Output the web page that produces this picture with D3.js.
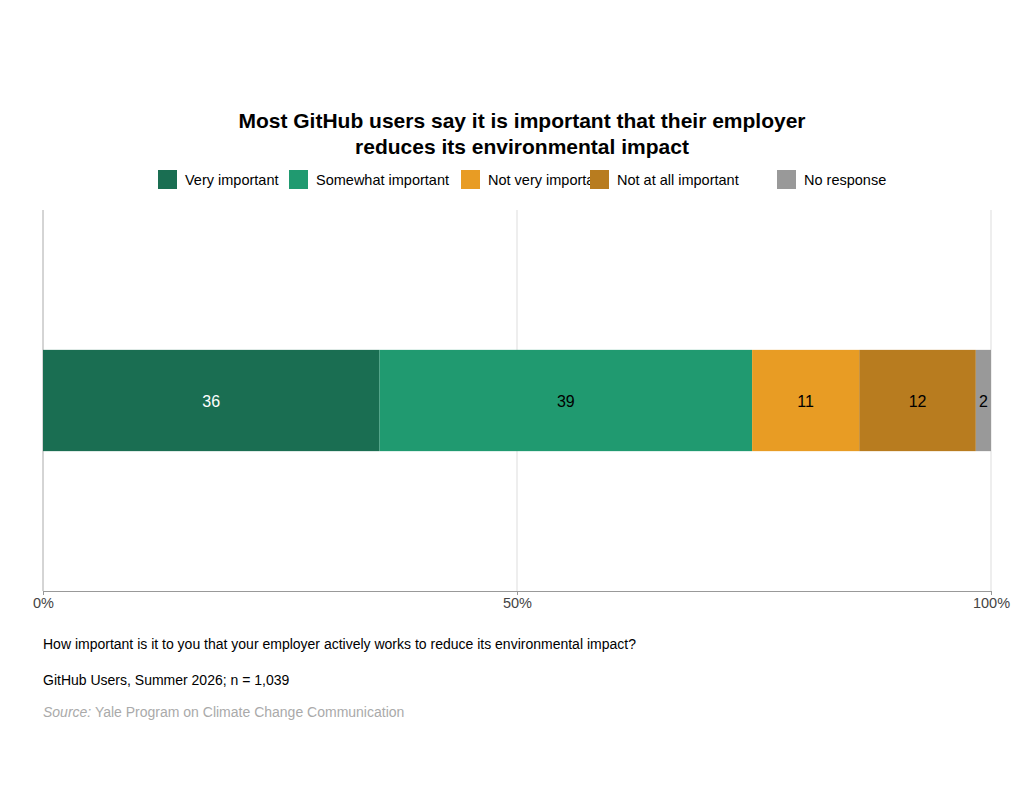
<!DOCTYPE html>
<html><head><meta charset="utf-8">
<script src="https://cdn.jsdelivr.net/npm/d3@7"></script>
<style>body{margin:0;background:#fff;font-family:"Liberation Sans",Arial,sans-serif}</style>
</head><body><svg id="c" width="1024" height="801"></svg>
<script>
const categories = ["Very important", "Somewhat important", "Not very important", "Not at all important", "No response"];
const values = [35.5, 39.3, 11.3, 12.3, 1.6];
const labels = ["36", "39", "11", "12", "2"];
const colors = ["#1a6e52", "#209a70", "#e89c24", "#b87c1f", "#999999"];
const ticks = [0, 50, 100];

const svg = d3.select("#c");
const margin = {left: 43, right: 33, top: 210, bottom: 210};
const width = 1024 - margin.left - margin.right, height = 801 - margin.top - margin.bottom;

svg.append("text").attr("x", 522).attr("y", 128).attr("text-anchor", "middle")
  .attr("font-size", 21).attr("font-weight", "bold").text("Most GitHub users say it is important that their employer");
svg.append("text").attr("x", 522).attr("y", 154).attr("text-anchor", "middle")
  .attr("font-size", 21).attr("font-weight", "bold").text("reduces its environmental impact");

// legend
const legendX = [158, 289, 461, 590, 777];
const lg = svg.append("g");
categories.forEach(function (c, i) {
  lg.append("rect").attr("x", legendX[i]).attr("y", 170).attr("width", 19).attr("height", 19).attr("fill", colors[i]);
  lg.append("text").attr("x", legendX[i] + 27).attr("y", 185).attr("font-size", 14.5).text(c);
});

const g = svg.append("g").attr("transform", "translate(" + margin.left + "," + margin.top + ")");
const x = d3.scaleLinear().domain([0, 100]).range([0, width]);
const y = d3.scaleBand().domain(["q"]).range([0, height]).padding(0.58);

g.selectAll(".grid").data(ticks).enter().append("line")
  .attr("x1", d => x(d)).attr("x2", d => x(d)).attr("y1", 0).attr("y2", height)
  .attr("stroke", d => d === 0 ? "#aaa" : "#ddd");

let cum = 0;
const segs = values.map(function (v, i) { const s = {x0: cum, v: v, i: i}; cum += v; return s; });
g.selectAll(".bar").data(segs).enter().append("rect")
  .attr("x", d => x(d.x0)).attr("width", d => x(d.v) - x(0))
  .attr("y", y("q")).attr("height", y.bandwidth()).attr("fill", d => colors[d.i]);
g.selectAll(".lbl").data(segs).enter().append("text")
  .attr("x", d => x(d.x0 + d.v / 2)).attr("y", y("q") + y.bandwidth() / 2 + 6)
  .attr("text-anchor", "middle").attr("font-size", 16)
  .attr("fill", d => d.i === 0 ? "#fff" : "#000").text(d => labels[d.i]);

const ax = g.append("g").attr("transform", "translate(0," + height + ")")
  .call(d3.axisBottom(x).tickValues(ticks).tickFormat(d => d + "%").tickSize(4));
ax.select(".domain").attr("stroke", "#999");
ax.selectAll(".tick line").attr("stroke", "#999");
ax.selectAll("text").attr("font-size", 14.5).attr("fill", "#444").attr("font-family", "Liberation Sans, Arial");

svg.append("text").attr("x", 43).attr("y", 649).attr("font-size", 14)
  .text("How important is it to you that your employer actively works to reduce its environmental impact?");
svg.append("text").attr("x", 43).attr("y", 685).attr("font-size", 14).text("GitHub Users, Summer 2026; n = 1,039");
const src = svg.append("text").attr("x", 43).attr("y", 717).attr("font-size", 14).attr("fill", "#aaa");
src.append("tspan").attr("font-style", "italic").text("Source:");
src.append("tspan").text(" Yale Program on Climate Change Communication");
</script></body></html>
